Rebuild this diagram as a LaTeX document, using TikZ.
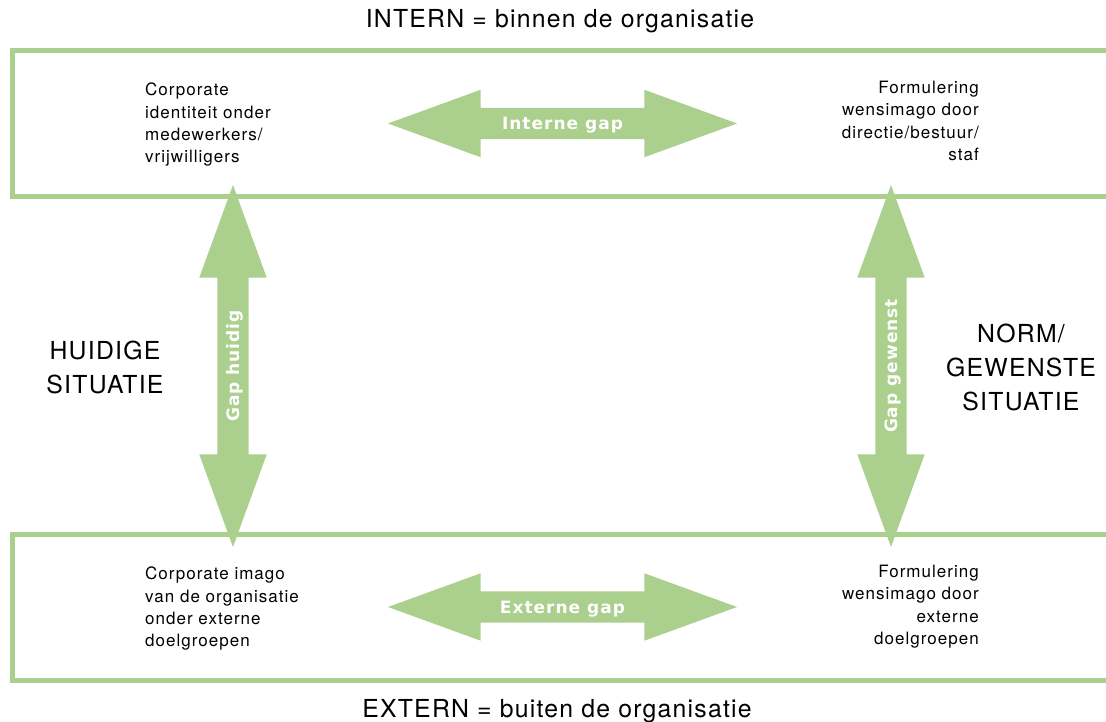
\documentclass[tikz,border=0pt]{standalone}
\usepackage{fontspec}
\setmainfont{TeX Gyre Heros}
\newfontfamily\bodyfont{TeX Gyre Heros}[LetterSpace=6]
\newfontfamily\labelfont{TeX Gyre Heros}[LetterSpace=5]
\newfontfamily\gapfont{DejaVu Sans}[LetterSpace=6]
\usetikzlibrary{shapes.arrows}
\definecolor{gapgreen}{RGB}{171,207,141}

\begin{document}
\begin{tikzpicture}[x=1pt, y=-1pt,
  band/.style={draw=gapgreen, line width=5pt},
  gaparrow/.style={double arrow, fill=gapgreen, draw=none,
    double arrow tip angle=40, double arrow head extend=18pt,
    minimum width=0pt, inner xsep=10pt, inner ysep=9.5pt,
    text height=12pt, text depth=0pt, text=white,
    font=\gapfont\bfseries\fontsize{17}{17}\selectfont},
  bodytext/.style={inner sep=0pt, font=\bodyfont\fontsize{17}{22.3}\selectfont},
  sidelabel/.style={inner sep=0pt, align=center, font=\labelfont\fontsize{24.8}{34}\selectfont}]

  \useasboundingbox (0,0) rectangle (1106,722);

  % band inside the organisation
  \draw[band] (1120,50.5) -- (12.5,50.5) -- (12.5,196.5) -- (1120,196.5);
  % band outside the organisation
  \draw[band] (1120,534.5) -- (12.5,534.5) -- (12.5,680.5) -- (1120,680.5);

  % band titles
  \node[sidelabel, anchor=base] (intern) at (560,28) {INTERN = binnen de organisatie};
  \node[sidelabel, anchor=base] (extern) at (557,717) {EXTERN = buiten de organisatie};

  % situation labels
  \node[sidelabel, anchor=north] (huidig) at (105,341) {HUIDIGE\\SITUATIE};
  \node[sidelabel, anchor=north] (gewenst) at (1021,324) {NORM/\\GEWENSTE\\SITUATIE};

  % gap arrows
  \node[gaparrow, minimum height=349pt] (internegap) at (562.5,123.5) {Interne gap};
  \node[gaparrow, minimum height=349pt] (externegap) at (562.5,607) {Externe gap};
  \node[gaparrow, rotate=90, minimum height=362pt] (gaphuidig) at (233,366) {Gap huidig};
  \node[gaparrow, rotate=90, minimum height=362pt] (gapgewenst) at (891,366) {Gap gewenst};

  % corner texts
  \node[bodytext, anchor=north west, align=left] (identiteit) at (145,83)
    {Corporate\\identiteit onder\\medewerkers/\\vrijwilligers};
  \node[bodytext, anchor=north east, align=right] (wensintern) at (979,81)
    {Formulering\\wensimago door\\directie/bestuur/\\staf};
  \node[bodytext, anchor=north west, align=left] (imago) at (145,567)
    {Corporate imago\\van de organisatie\\onder externe\\doelgroepen};
  \node[bodytext, anchor=north east, align=right] (wensextern) at (979,565)
    {Formulering\\wensimago door\\externe\\doelgroepen};

\end{tikzpicture}
\end{document}
